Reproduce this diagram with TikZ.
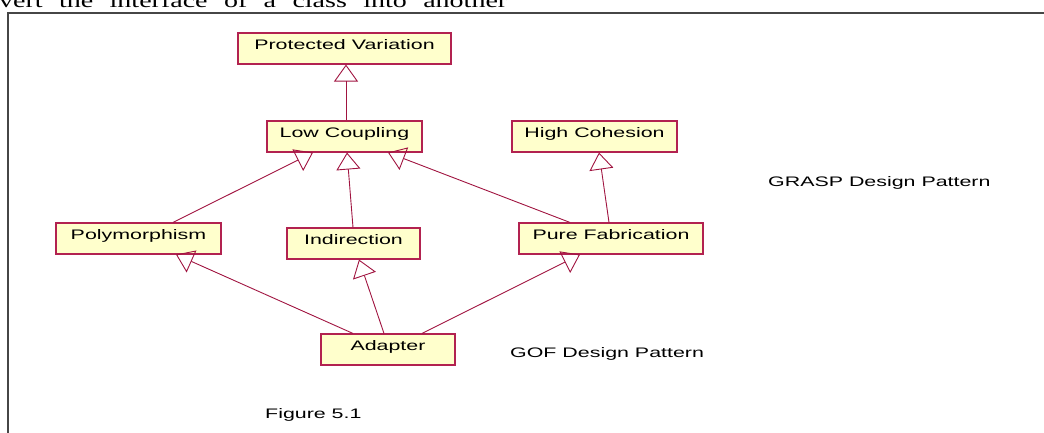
\documentclass[tikz,border=0pt]{standalone}
\usepackage{fontspec}
\usetikzlibrary{arrows.meta}
\newfontfamily\labelfont[FakeStretch=1.55]{Liberation Sans}
\newfontfamily\bodyfont[FakeStretch=1.4]{Liberation Serif}
\definecolor{boxfill}{RGB}{255,255,204}
\definecolor{boxline}{RGB}{178,34,80}
\definecolor{linkline}{RGB}{160,20,64}
\definecolor{framegray}{RGB}{70,70,70}
\tikzset{
  cls/.style={draw=boxline, line width=1.1pt, fill=boxfill, inner sep=0pt,
    text height=16pt, text depth=15pt, font=\labelfont\fontsize{13.8}{15}\selectfont},
  gen/.style={draw=linkline, line width=0.9pt,
    -{Triangle[open, width=24pt, length=17pt, line width=0.9pt]}},
  note/.style={inner sep=0pt, anchor=base west, font=\labelfont\fontsize{13.8}{15}\selectfont}
}
\begin{document}
\begin{tikzpicture}[x=1pt, y=-1pt]
\useasboundingbox (0,0) rectangle (1044,432);
\begin{scope}
\clip (0,0) rectangle (1044,432);
% running text of the page above the figure frame
\node[inner sep=0pt, anchor=base west] (bodyline) at (-1,7.5)
  {\bodyfont\fontsize{20}{22}\selectfont\hbox to 508pt{vert\hfill the\hfill interface\hfill of\hfill a\hfill class\hfill into\hfill another}};
% figure frame
\coordinate (fcorner) at (8,13);
\coordinate (fbottom) at (8,440);
\coordinate (fright) at (1050,13);
\draw[framegray, line width=1.5pt] (fbottom) -- (fcorner) -- (fright);

% classes
\node[cls, minimum width=213pt] (pv)   at (344.5,48.5)  {Protected Variation};
\node[cls, minimum width=155pt] (lc)   at (344.5,136.5) {Low Coupling};
\node[cls, minimum width=165pt] (hc)   at (594.5,136.5) {High Cohesion};
\node[cls, minimum width=165pt] (poly) at (138.5,238.5) {Polymorphism};
\node[cls, minimum width=133pt] (ind)  at (353.5,243.5) {Indirection};
\node[cls, minimum width=184pt] (pf)   at (611,238.5)   {Pure Fabrication};
\node[cls, minimum width=134pt] (ad)   at (388,349.5)   {Adapter};

% generalisations
\draw[gen] ([xshift=1.5pt]lc.north) -- ([xshift=1.5pt]pv.south);
\draw[gen] ([xshift=34.5pt]poly.north) -- ([xshift=-31.5pt]lc.south);
\draw[gen] ([xshift=-0.5pt]ind.north) -- ([xshift=2.5pt]lc.south);
\draw[gen] ([xshift=-41pt]pf.north) -- ([xshift=43.5pt]lc.south);
\draw[gen] ([xshift=-2pt]pf.north) -- ([xshift=4.5pt]hc.south);
\draw[gen] ([xshift=-35pt]ad.north) -- ([xshift=37.5pt]poly.south);
\draw[gen] ([xshift=-4pt]ad.north) -- ([xshift=5.5pt]ind.south);
\draw[gen] ([xshift=34pt]ad.north) -- ([xshift=-31pt]pf.south);

% captions
\node[note] (grasp) at (768,186) {GRASP Design Pattern};
\node[note] (gof)   at (510,357) {GOF Design Pattern};
\node[note] (fig)   at (265,418) {Figure 5.1};
\end{scope}
\end{tikzpicture}
\end{document}
